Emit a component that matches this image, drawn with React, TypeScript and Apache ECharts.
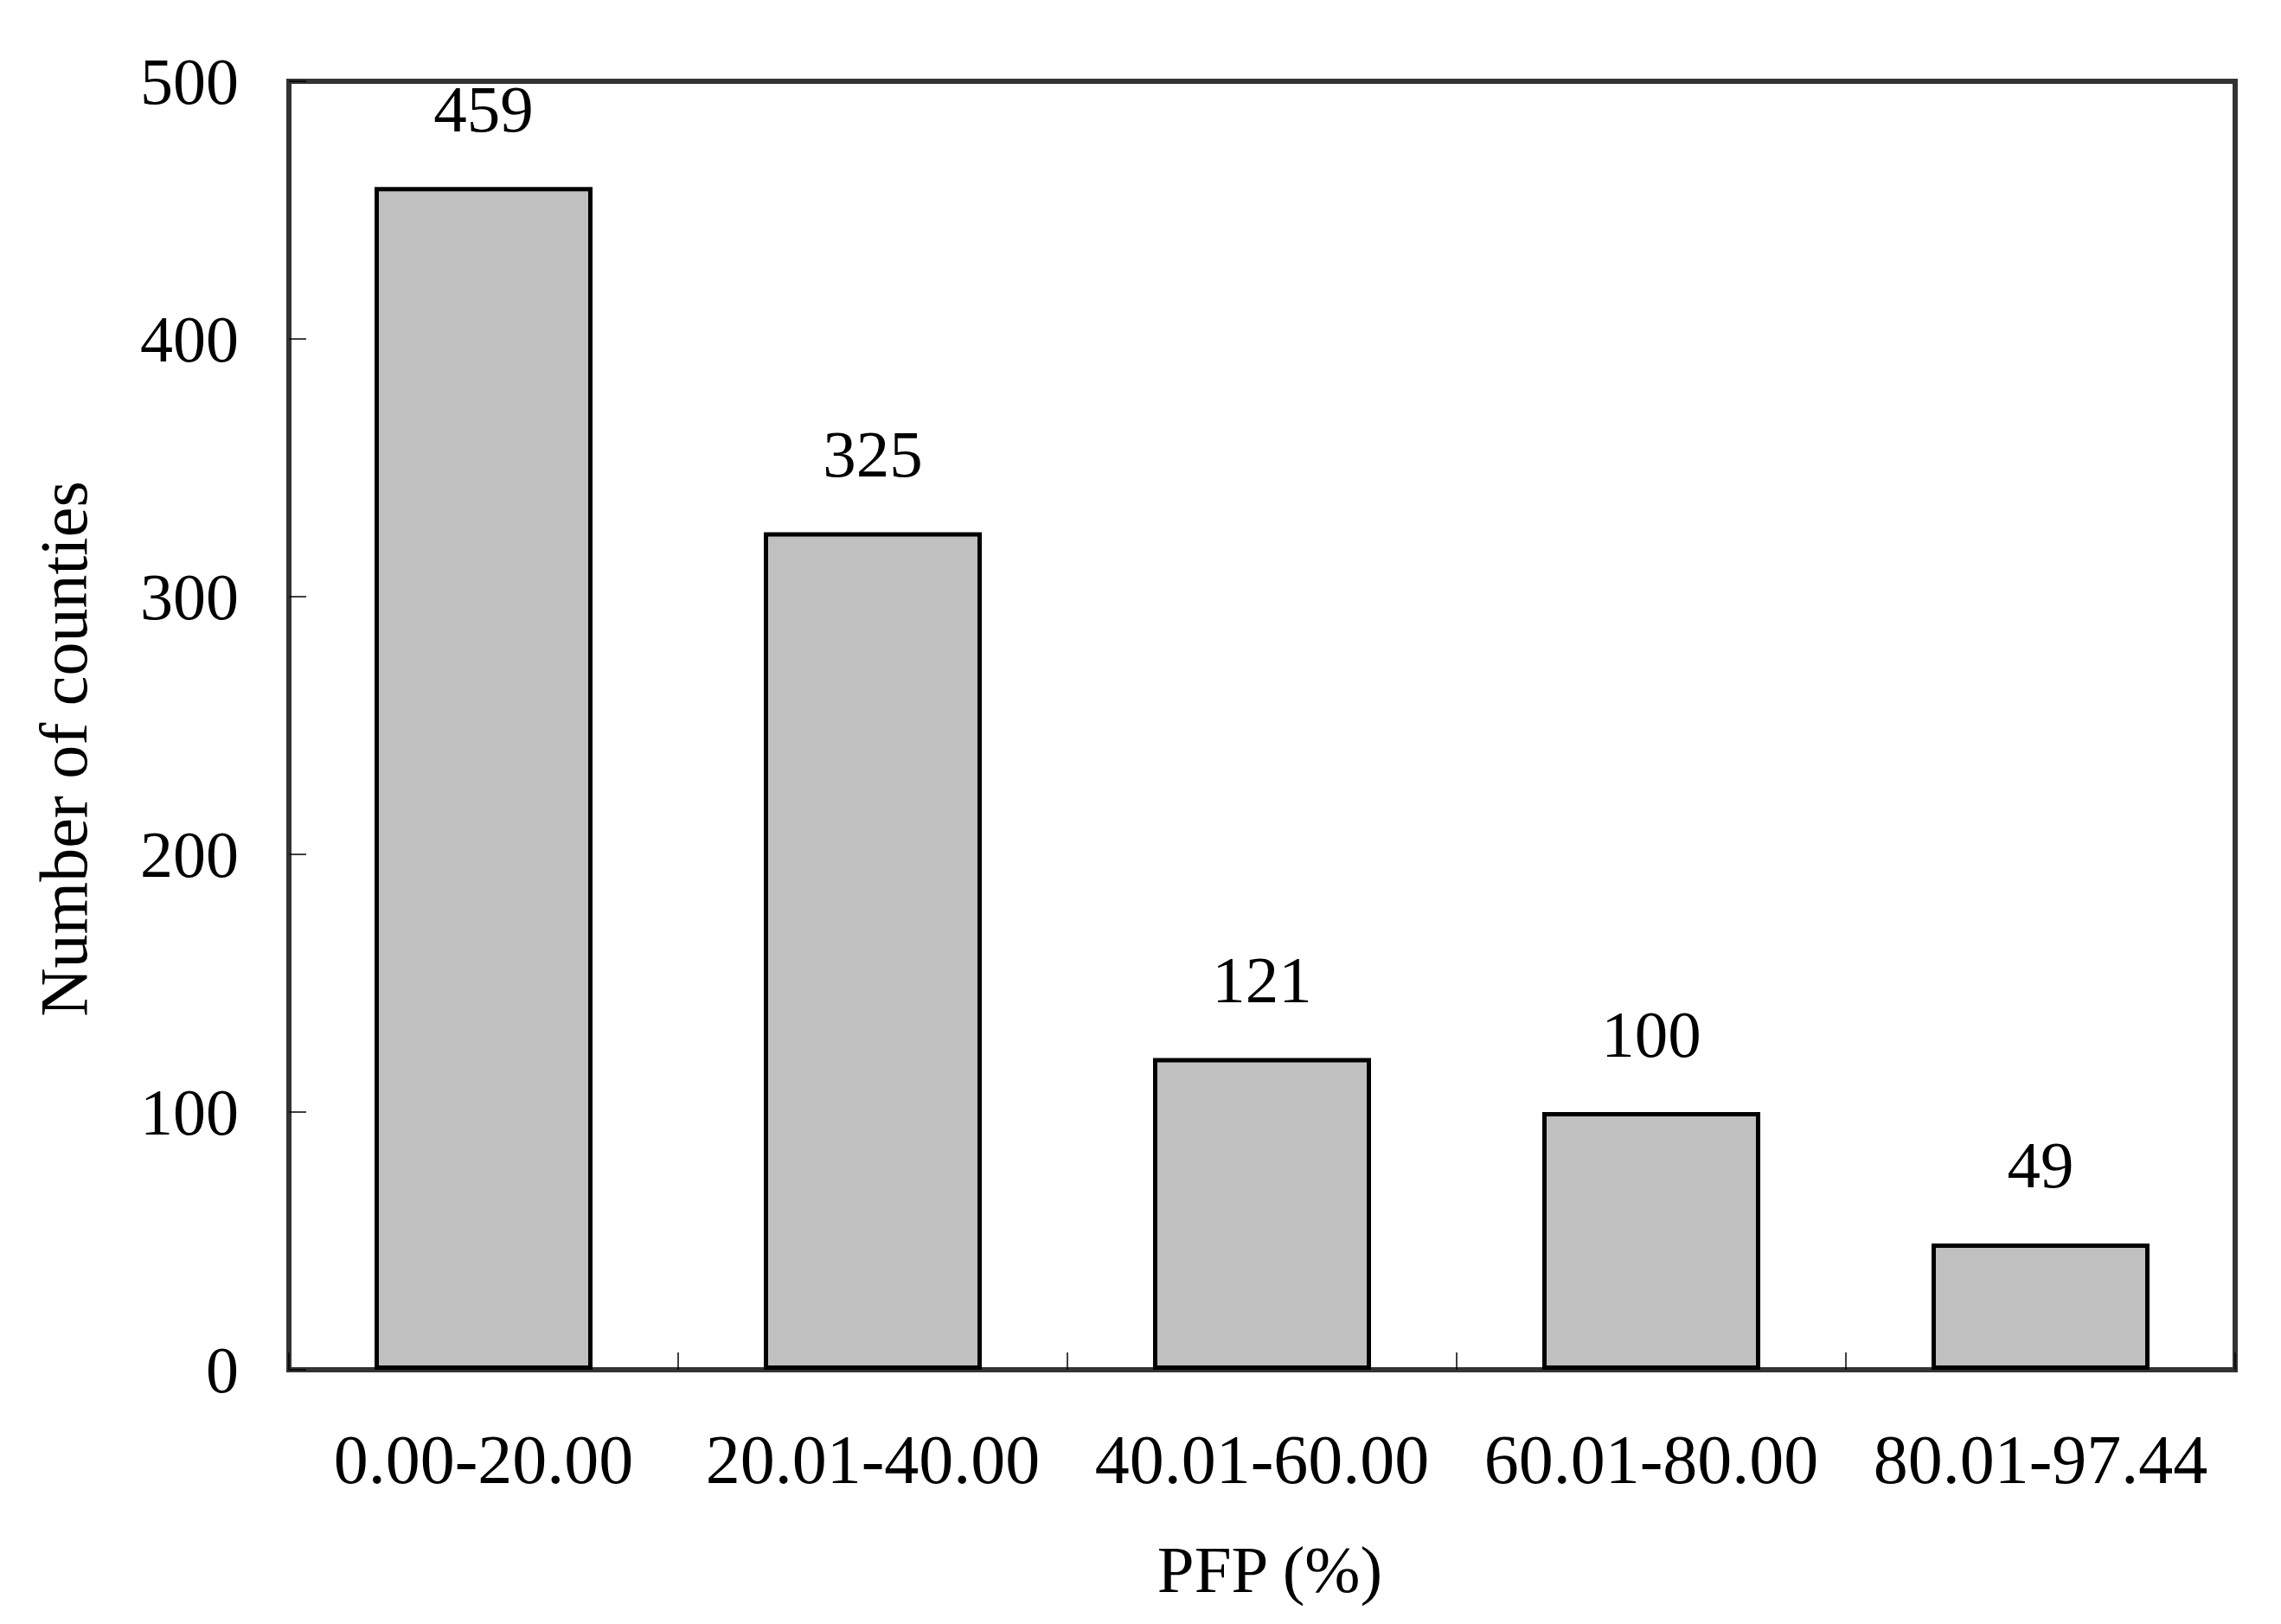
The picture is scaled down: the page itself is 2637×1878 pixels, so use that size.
import React, { useEffect, useRef } from "react";
import * as echarts from "echarts";

const categories = ["0.00-20.00", "20.01-40.00", "40.01-60.00", "60.01-80.00", "80.01-97.44"];
const counts = [459, 325, 121, 100, 49];
const yTicks = [0, 100, 200, 300, 400, 500];

const FONT = "'Liberation Serif', 'Times New Roman', serif";

export default function App() {
  const ref = useRef<HTMLDivElement>(null);
  useEffect(() => {
    if (!ref.current) return;
    const chart = echarts.init(ref.current, null, { renderer: "svg" });
    chart.setOption({
      animation: false,
      backgroundColor: "#ffffff",
      grid: {
        left: 334,
        right: 53,
        top: 94,
        bottom: 294,
        show: true,
        borderColor: "#333333",
        borderWidth: 6,
        backgroundColor: "transparent",
      },
      xAxis: {
        type: "category",
        data: categories,
        name: "PFP (%)",
        nameLocation: "middle",
        nameGap: 192,
        nameTextStyle: { fontFamily: FONT, fontSize: 77, color: "#000", padding: [0, 0, 0, 18] },
        axisLine: { show: false },
        axisTick: { show: true, inside: true, interval: 0, length: 20, lineStyle: { color: "#000", width: 1.5 } },
        axisLabel: { fontFamily: FONT, fontSize: 80, color: "#000", margin: 64, interval: 0, hideOverlap: false },
        splitLine: { show: false },
      },
      yAxis: {
        type: "value",
        min: yTicks[0],
        max: yTicks[yTicks.length - 1],
        interval: 100,
        name: "Number of counties",
        nameLocation: "middle",
        nameGap: 222,
        nameTextStyle: { fontFamily: FONT, fontSize: 78, color: "#000", padding: [0, 54, 0, 0] },
        axisLine: { show: false },
        axisTick: { show: true, inside: true, length: 20, lineStyle: { color: "#000", width: 1.5 } },
        axisLabel: { fontFamily: FONT, fontSize: 76, color: "#000", margin: 58 },
        splitLine: { show: false },
      },
      series: [
        {
          type: "bar",
          data: counts,
          barWidth: "56%",
          itemStyle: { color: "#c0c0c0", borderColor: "#000", borderWidth: 5 },
          label: {
            show: true,
            position: "top",
            distance: 52,
            fontFamily: FONT,
            fontSize: 77,
            color: "#000",
          },
        },
      ],
    });
    return () => chart.dispose();
  }, []);
  return (
    <div
      ref={ref}
      style={{ position: "fixed", left: 0, top: 0, width: 2637, height: 1878, background: "#fff" }}
    />
  );
}
